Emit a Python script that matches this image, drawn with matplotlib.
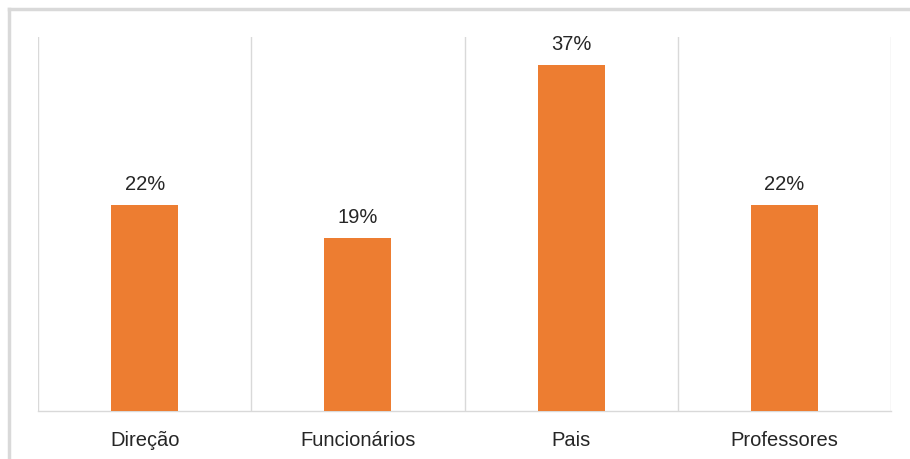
import matplotlib
matplotlib.use('Agg')
import matplotlib.pyplot as plt
from matplotlib.lines import Line2D

categories = ['Direção', 'Funcionários', 'Pais', 'Professores']
values = [22.0, 18.5, 37.0, 22.0]
labels = ['22%', '19%', '37%', '22%']

plt.rcParams['font.family'] = ['Liberation Sans', 'DejaVu Sans']

fig = plt.figure(figsize=(9.10, 4.59), dpi=100)
ax = fig.add_axes([38 / 910, 1 - 410.5 / 459, (891 - 38) / 910, (410.5 - 37) / 459])

x = range(len(categories))
bars = ax.bar(x, values, width=0.315, color='#ED7D31', zorder=3)
for b, lab in zip(bars, labels):
    ax.text(b.get_x() + b.get_width() / 2, b.get_height() + 1.2, lab,
            ha='center', va='bottom', fontsize=14.5, color='#262626')

ax.set_xlim(-0.5, len(categories) - 0.5)
ax.set_ylim(0, 40)
ax.set_xticks(list(x))
ax.set_xticklabels(categories, fontsize=14.5, color='#262626')
ax.tick_params(axis='x', length=0, pad=15)
ax.set_yticks([])

# vertical separators between categories
for i in range(len(categories) + 1):
    ax.axvline(i - 0.5, color='#d9d9d9', lw=1, zorder=1)

for s in ['top', 'right', 'left']:
    ax.spines[s].set_visible(False)
ax.spines['bottom'].set_color('#d9d9d9')
ax.spines['bottom'].set_linewidth(1)

# outer frame (top and left edges visible in the screenshot)
fig.add_artist(Line2D([9 / 910, 1], [1 - 9 / 459, 1 - 9 / 459], color='#d9d9d9', lw=2.5))
fig.add_artist(Line2D([9 / 910, 9 / 910], [0, 1 - 9 / 459], color='#d9d9d9', lw=2.5))

fig.savefig('out.png', dpi=100)
